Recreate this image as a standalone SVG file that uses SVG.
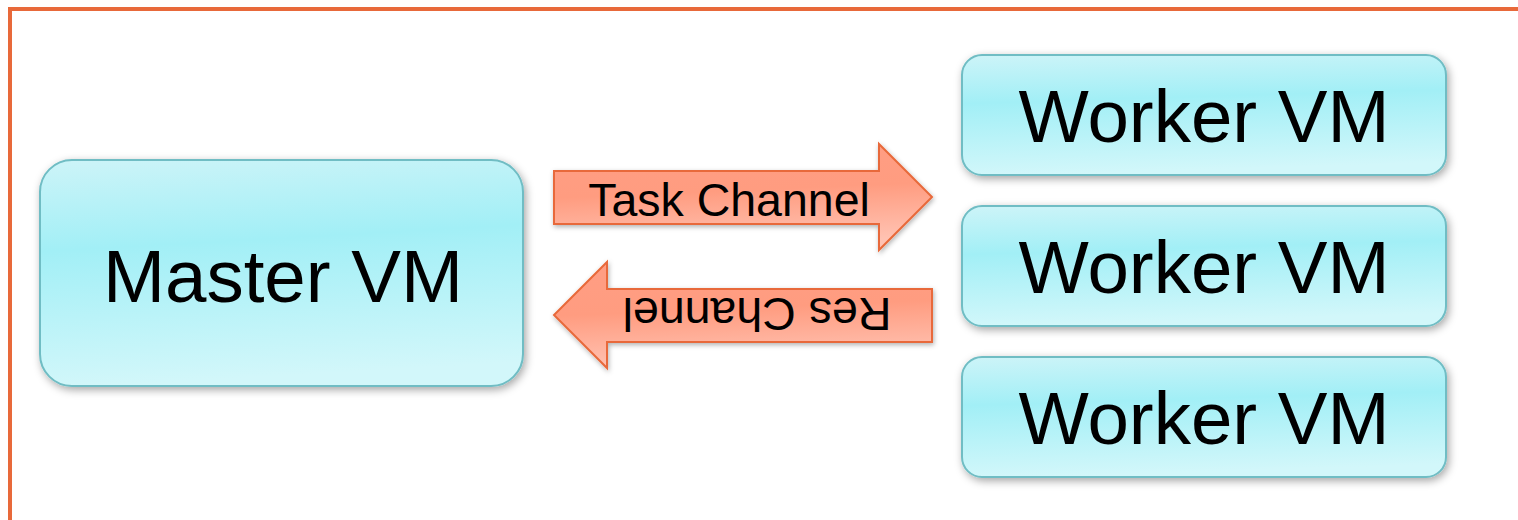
<svg xmlns="http://www.w3.org/2000/svg" width="1518" height="520" viewBox="0 0 1518 520">
  <defs>
    <linearGradient id="vmFill" x1="0" y1="0" x2="0.12" y2="1">
      <stop offset="0" stop-color="#CDF4F8"/>
      <stop offset="0.4" stop-color="#A2EFF6"/>
      <stop offset="1" stop-color="#D2F7FA"/>
    </linearGradient>
    <linearGradient id="arrowFill" x1="0" y1="0" x2="0.15" y2="1">
      <stop offset="0" stop-color="#FF9E84"/>
      <stop offset="0.5" stop-color="#FF9C80"/>
      <stop offset="1" stop-color="#FFC2B2"/>
    </linearGradient>
    <filter id="shadow" x="-10%" y="-20%" width="125%" height="145%">
      <feDropShadow dx="2" dy="3" stdDeviation="4" flood-color="#000" flood-opacity="0.35"/>
    </filter>
    <filter id="arrowShadow" x="-10%" y="-20%" width="125%" height="145%">
      <feDropShadow dx="1" dy="2" stdDeviation="2.5" flood-color="#000" flood-opacity="0.3"/>
    </filter>
  </defs>
  <style>
    .frame { fill: none; stroke: #E8693A; stroke-width: 4; }
    .vm { fill: url(#vmFill); stroke: #6FBDC4; stroke-width: 2; filter: url(#shadow); }
    .chan { fill: url(#arrowFill); stroke: #E8693A; stroke-width: 2; stroke-linejoin: miter; filter: url(#arrowShadow); }
    .label { font-family: "Liberation Sans", Arial, sans-serif; fill: #000; text-anchor: middle; }
    .big { font-size: 74.5px; }
    .small { font-size: 46.5px; }
  </style>

  <rect width="1518" height="520" fill="#FFFFFF"/>
  <!-- outer frame: top and left edges -->
  <path class="frame" d="M10 520 V9 H1518"/>

  <g id="master">
    <rect class="vm" x="40" y="160" width="483" height="226" rx="32"/>
    <text class="label big" x="283" y="302">Master VM</text>
  </g>

  <g id="worker1">
    <rect class="vm" x="962" y="55" width="484" height="120" rx="20"/>
    <text class="label big" x="1204" y="142">Worker VM</text>
  </g>

  <g id="worker2">
    <rect class="vm" x="962" y="206" width="484" height="120" rx="20"/>
    <text class="label big" x="1204" y="293">Worker VM</text>
  </g>

  <g id="worker3">
    <rect class="vm" x="962" y="357" width="484" height="120" rx="20"/>
    <text class="label big" x="1204" y="444">Worker VM</text>
  </g>

  <g id="connectors">
    <g id="task-channel">
      <path class="chan" d="M554 171 H879 V144 L932 197 L879 250 V224 H554 Z"/>
      <text class="label small" x="729" y="216">Task Channel</text>
    </g>
    <g id="res-channel">
      <path class="chan" d="M932 289 H607 V262 L554 315 L607 368 V342 H932 Z"/>
      <text class="label small" transform="translate(757 315) rotate(180)" x="0" y="17">Res Channel</text>
    </g>
  </g>
</svg>
